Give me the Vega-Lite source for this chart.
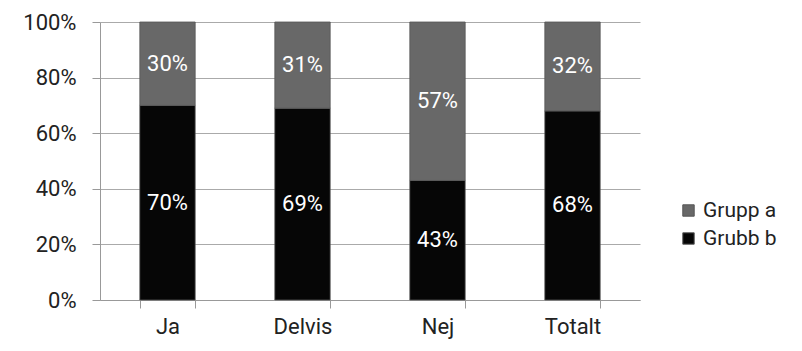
{
  "$schema": "https://vega.github.io/schema/vega-lite/v6.json",
  "width": 540,
  "height": 278,
  "autosize": {"type": "none"},
  "padding": {"left": 100, "top": 22, "right": 162, "bottom": 51},
  "background": "white",
  "config": {
    "view": {"stroke": null},
    "font": "Roboto",
    "axis": {"labelFont": "Roboto", "labelColor": "#222"}
  },
  "data": {
    "values": [
      {"cat": "Ja", "grp": "Grubb b", "val": 70, "ord": 1},
      {"cat": "Ja", "grp": "Grupp a", "val": 30, "ord": 2},
      {"cat": "Delvis", "grp": "Grubb b", "val": 69, "ord": 1},
      {"cat": "Delvis", "grp": "Grupp a", "val": 31, "ord": 2},
      {"cat": "Nej", "grp": "Grubb b", "val": 43, "ord": 1},
      {"cat": "Nej", "grp": "Grupp a", "val": 57, "ord": 2},
      {"cat": "Totalt", "grp": "Grubb b", "val": 68, "ord": 1},
      {"cat": "Totalt", "grp": "Grupp a", "val": 32, "ord": 2}
    ]
  },
  "transform": [
    {"stack": "val", "groupby": ["cat"], "sort": [{"field": "ord"}], "as": ["y0", "y1"]},
    {"calculate": "(datum.y0 + datum.y1) / 2", "as": "ymid"},
    {"calculate": "datum.val + '%'", "as": "lbl"}
  ],
  "encoding": {
    "x": {
      "field": "cat", "type": "nominal", "sort": ["Ja", "Delvis", "Nej", "Totalt"],
      "scale": {"paddingInner": 0.59, "paddingOuter": 0.295},
      "axis": {
        "title": null, "labelAngle": 0, "labelFontSize": 22, "labelPadding": 8,
        "domainColor": "#999", "tickColor": "#999", "tickBand": "extent", "tickSize": 8,
        "labelColor": "#222"
      }
    }
  },
  "layer": [
    {
      "mark": {"type": "bar", "stroke": "#555", "strokeWidth": 0.8},
      "encoding": {
        "y": {
          "field": "y0", "type": "quantitative",
          "scale": {"domain": [0, 100]},
          "axis": {
            "title": null, "values": [0, 20, 40, 60, 80, 100], "labelExpr": "datum.value + '%'",
            "labelFontSize": 22, "labelPadding": 16, "tickSize": 8,
            "domainColor": "#999", "tickColor": "#999", "gridColor": "#aaa", "grid": true
          }
        },
        "y2": {"field": "y1"},
        "color": {
          "field": "grp", "type": "nominal",
          "scale": {"domain": ["Grupp a", "Grubb b"], "range": ["#686868", "#060606"]},
          "legend": {
            "title": null, "orient": "none", "legendX": 578, "legendY": 178,
            "labelFontSize": 21, "labelColor": "#222", "symbolType": "square", "symbolSize": 130,
            "symbolStrokeColor": "#555", "symbolStrokeWidth": 1, "rowPadding": 6, "labelOffset": 4
          }
        }
      }
    },
    {
      "mark": {"type": "text", "color": "white", "fontSize": 22, "baseline": "middle"},
      "encoding": {
        "y": {"field": "ymid", "type": "quantitative"},
        "text": {"field": "lbl", "type": "nominal"},
        "detail": {"field": "grp"}
      }
    }
  ]
}
